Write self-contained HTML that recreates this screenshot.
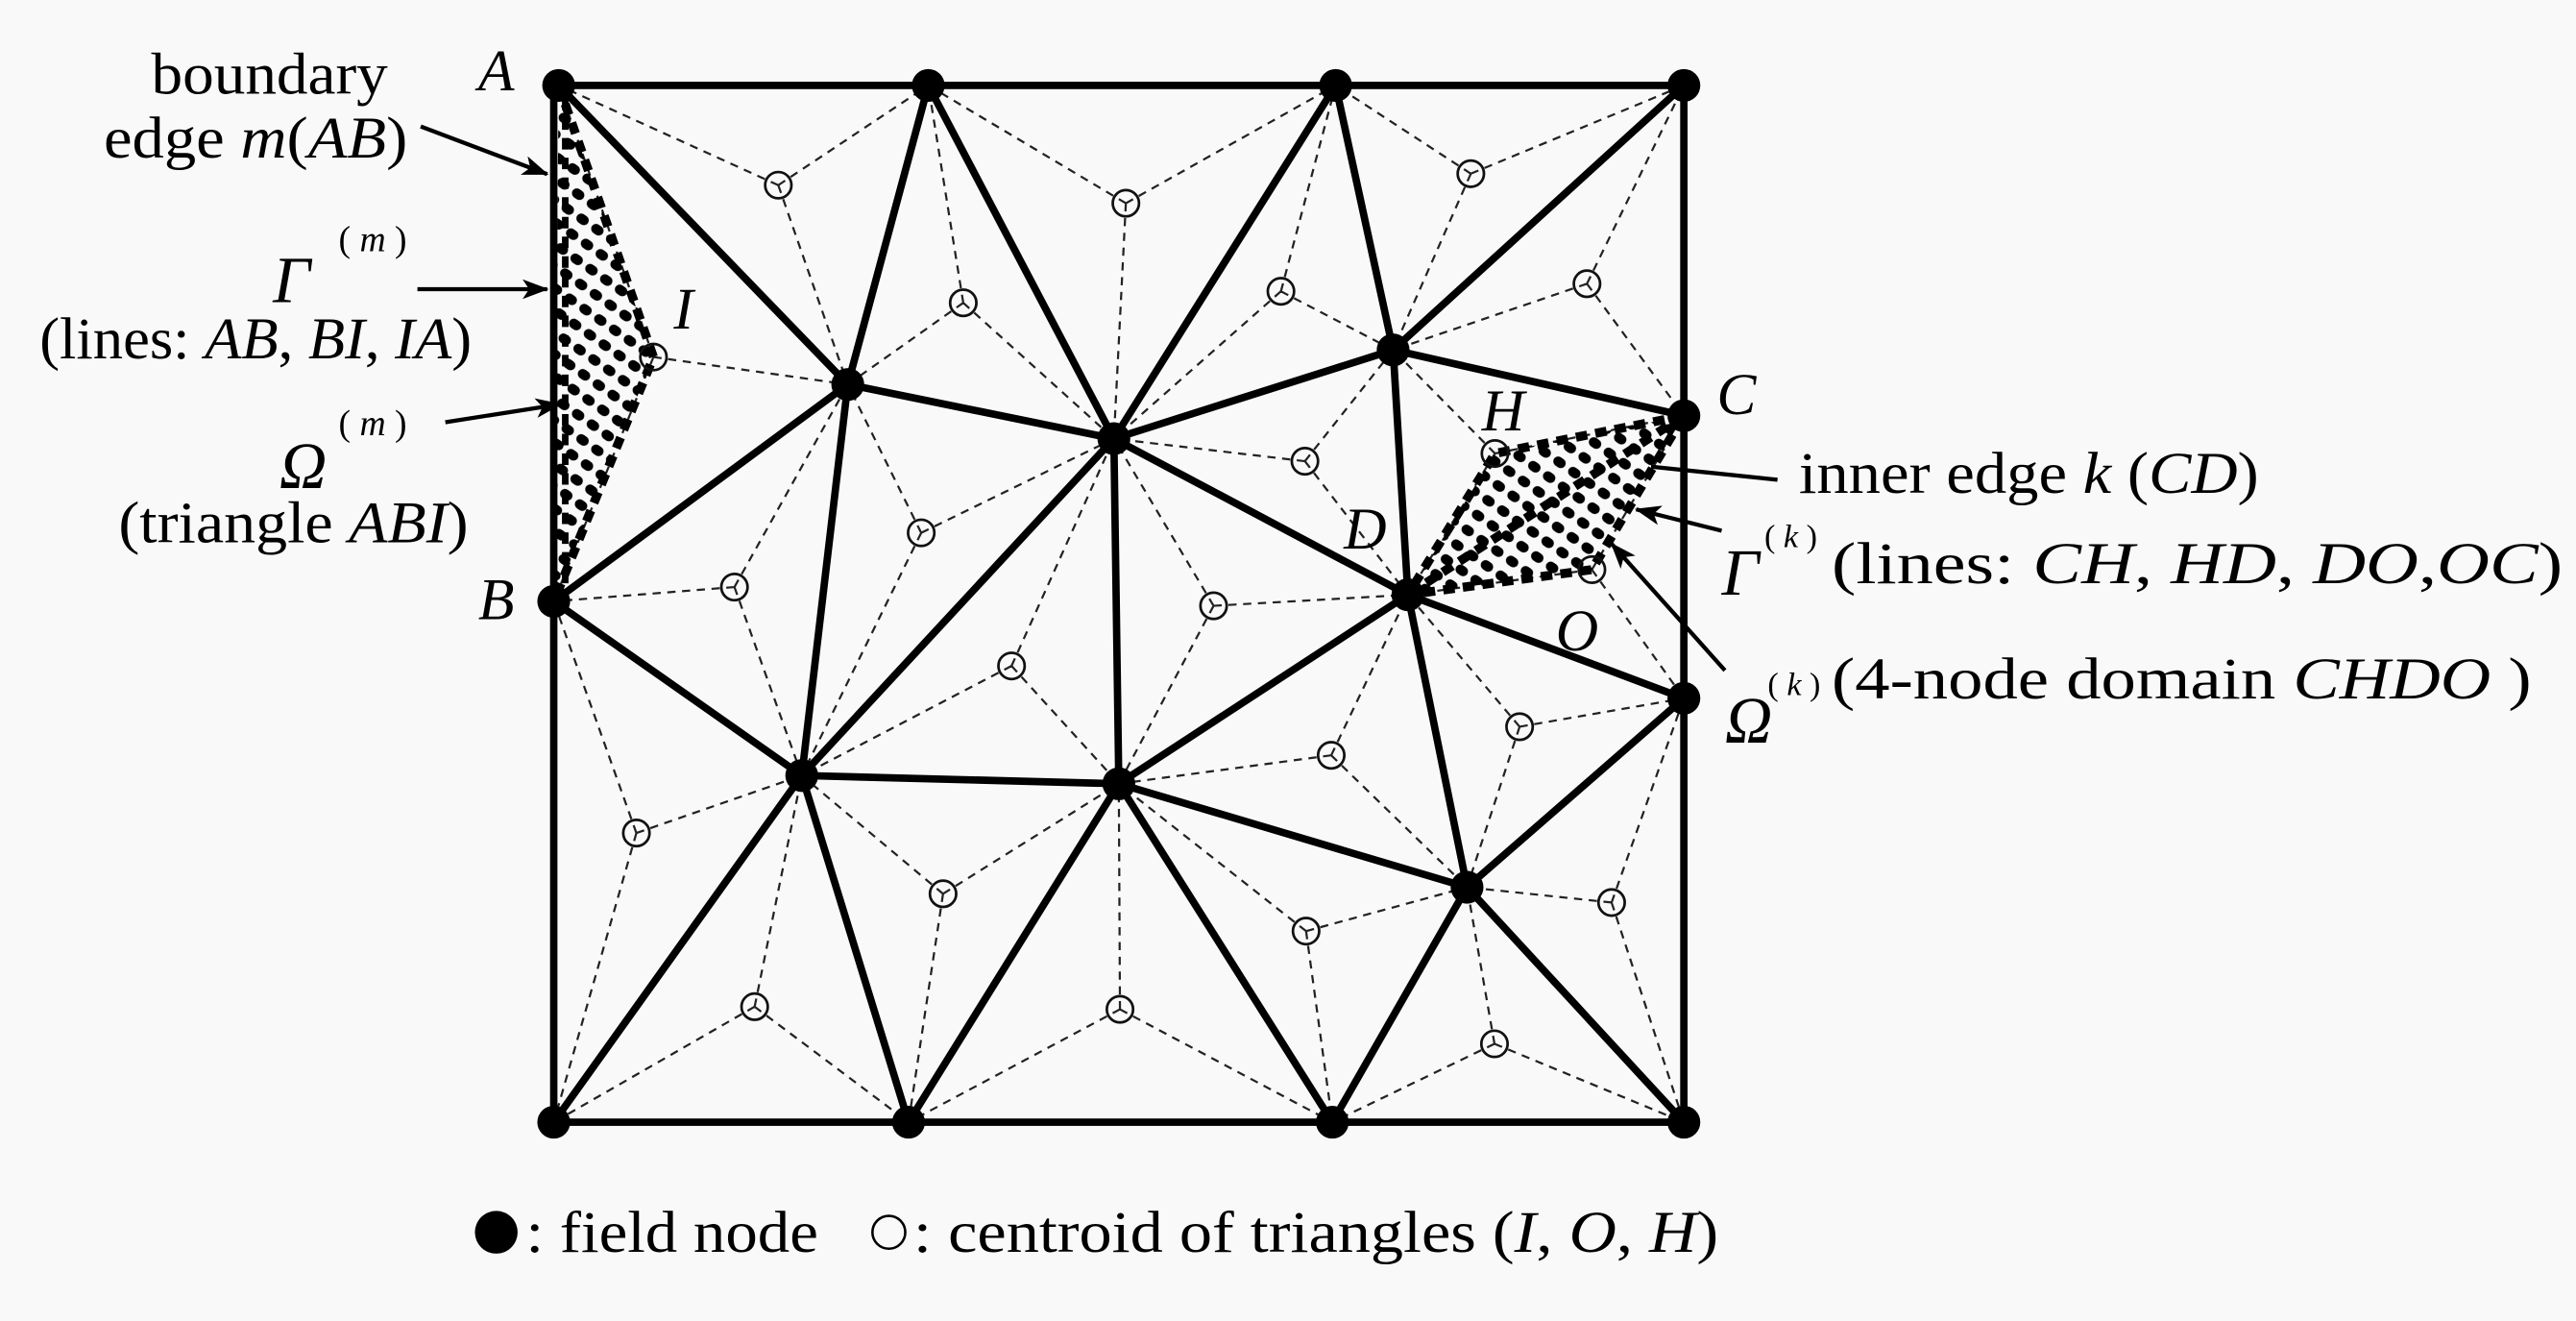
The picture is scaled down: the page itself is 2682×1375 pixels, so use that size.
<!DOCTYPE html>
<html><head><meta charset="utf-8"><style>
html,body{margin:0;padding:0;background:#f9f9f9;}
svg{display:block}
text{font-family:"Liberation Serif",serif;fill:#000;}
.i{font-style:italic}
</style></head><body>
<svg width="2682" height="1375" viewBox="0 0 1568 804" xmlns="http://www.w3.org/2000/svg">
<defs>
<pattern id="hat" width="11" height="11" patternUnits="userSpaceOnUse" patternTransform="rotate(35)">
<rect x="0" y="2" width="8" height="6" rx="3" fill="#000"/>
</pattern>
<marker id="ar2" markerWidth="16" markerHeight="12" refX="15" refY="6" orient="auto" markerUnits="userSpaceOnUse"><path d="M0,0 L16,6 L0,12 L4,6 Z" fill="#000"/></marker>
</defs>
<rect width="1568" height="804" fill="#f9f9f9"/>

<g stroke="#222" stroke-width="1.3" stroke-dasharray="5,4" fill="none">
<path d="M473.7,112.7L340,52M473.7,112.7L565,52M473.7,112.7L516,234
M586.3,184.3L565,52M586.3,184.3L516,234M586.3,184.3L678,267
M685.3,123.7L565,52M685.3,123.7L813,52M685.3,123.7L678,267
M779.7,177.3L813,52M779.7,177.3L678,267M779.7,177.3L848,213
M895.3,105.7L813,52M895.3,105.7L1025,52M895.3,105.7L848,213
M966,172.7L1025,52M966,172.7L848,213M966,172.7L1025,253
M397.7,217.3L340,52M397.7,217.3L337,366M397.7,217.3L516,234
M447,357.3L337,366M447,357.3L516,234M447,357.3L488,472
M560.7,324.3L516,234M560.7,324.3L678,267M560.7,324.3L488,472
M615.7,405.3L678,267M615.7,405.3L488,472M615.7,405.3L681,477
M738.7,368.7L678,267M738.7,368.7L681,477M738.7,368.7L857,362
M794.3,280.7L678,267M794.3,280.7L848,213M794.3,280.7L857,362
M910,276L848,213M910,276L857,362M910,276L1025,253
M969,346.7L857,362M969,346.7L1025,253M969,346.7L1025,425
M925,442.3L857,362M925,442.3L1025,425M925,442.3L893,540
M810.3,459.7L857,362M810.3,459.7L681,477M810.3,459.7L893,540
M387.3,507L337,366M387.3,507L488,472M387.3,507L337,683
M459.3,612.7L337,683M459.3,612.7L488,472M459.3,612.7L553,683
M574,544L488,472M574,544L681,477M574,544L553,683
M681.7,614.3L681,477M681.7,614.3L553,683M681.7,614.3L811,683
M795,566.7L681,477M795,566.7L893,540M795,566.7L811,683
M909.7,635.3L893,540M909.7,635.3L811,683M909.7,635.3L1025,683
M981,549.3L893,540M981,549.3L1025,425M981,549.3L1025,683"/>
</g>

<g>
<path d="M340,52 L397.7,217.3 L337,366 Z" fill="url(#hat)"/>
<path d="M340,52 L397.7,217.3 L337,366" fill="none" stroke="#000" stroke-width="5.5" stroke-dasharray="7,5"/>
<path d="M344,60 L344,360" fill="none" stroke="#000" stroke-width="4" stroke-dasharray="7,5"/>
<path d="M1025,253 L910,276 L857,362 L969,346.7 Z" fill="url(#hat)"/>
<path d="M1025,253 L910,276 L857,362 L969,346.7 Z M1025,253 L857,362" fill="none" stroke="#000" stroke-width="5.5" stroke-dasharray="7,5"/>
</g>

<g stroke="#000" stroke-width="4.5" fill="none" stroke-linecap="round">
<rect x="337" y="52" width="688" height="631"/>
<path d="M340,52L516,234M565,52L516,234M565,52L678,267M813,52L678,267M813,52L848,213M1025,52L848,213
M848,213L1025,253M848,213L857,362M678,267L848,213M516,234L678,267M337,366L516,234M516,234L488,472
M678,267L488,472M678,267L681,477M678,267L857,362M857,362L1025,425M857,362L681,477
M857,362L893,540M337,366L488,472M488,472L681,477M488,472L337,683M488,472L553,683M681,477L553,683
M681,477L811,683M681,477L893,540M893,540L811,683M893,540L1025,683M893,540L1025,425"/>
</g>

<g fill="none" stroke="#111" stroke-width="1.6">
<circle cx="473.7" cy="112.7" r="8"/><circle cx="586.3" cy="184.3" r="8"/><circle cx="685.3" cy="123.7" r="8"/>
<circle cx="779.7" cy="177.3" r="8"/><circle cx="895.3" cy="105.7" r="8"/><circle cx="966" cy="172.7" r="8"/>
<circle cx="397.7" cy="217.3" r="8"/><circle cx="447" cy="357.3" r="8"/><circle cx="560.7" cy="324.3" r="8"/>
<circle cx="615.7" cy="405.3" r="8"/><circle cx="738.7" cy="368.7" r="8"/><circle cx="794.3" cy="280.7" r="8"/>
<circle cx="910" cy="276" r="8"/><circle cx="969" cy="346.7" r="8"/><circle cx="925" cy="442.3" r="8"/>
<circle cx="810.3" cy="459.7" r="8"/><circle cx="387.3" cy="507" r="8"/><circle cx="459.3" cy="612.7" r="8"/>
<circle cx="574" cy="544" r="8"/><circle cx="681.7" cy="614.3" r="8"/><circle cx="795" cy="566.7" r="8"/>
<circle cx="909.7" cy="635.3" r="8"/><circle cx="981" cy="549.3" r="8"/>
</g>

<g fill="#000">
<circle cx="340" cy="52" r="10"/><circle cx="565" cy="52" r="10"/><circle cx="813" cy="52" r="10"/><circle cx="1025" cy="52" r="10"/>
<circle cx="337" cy="366" r="10"/><circle cx="337" cy="683" r="10"/><circle cx="553" cy="683" r="10"/><circle cx="811" cy="683" r="10"/><circle cx="1025" cy="683" r="10"/>
<circle cx="1025" cy="253" r="10"/><circle cx="1025" cy="425" r="10"/>
<circle cx="516" cy="234" r="10"/><circle cx="678" cy="267" r="10"/><circle cx="848" cy="213" r="10"/><circle cx="857" cy="362" r="10"/>
<circle cx="488" cy="472" r="10"/><circle cx="681" cy="477" r="10"/><circle cx="893" cy="540" r="10"/>
</g>

<g stroke="#000" stroke-width="2.5" fill="none">
<line x1="256" y1="77" x2="333" y2="106" marker-end="url(#ar2)"/>
<line x1="254" y1="176" x2="333" y2="176" marker-end="url(#ar2)"/>
<line x1="271" y1="257" x2="341" y2="246" marker-end="url(#ar2)"/>
<line x1="1082" y1="292" x2="1005" y2="284"/>
<line x1="1048" y1="323" x2="996" y2="310" marker-end="url(#ar2)"/>
<line x1="1050" y1="408" x2="981" y2="331" marker-end="url(#ar2)"/>
</g>

<g font-size="36">
<text x="92" y="57" textLength="144" lengthAdjust="spacingAndGlyphs">boundary</text>
<text x="63" y="96" textLength="185" lengthAdjust="spacingAndGlyphs">edge <tspan class="i">m</tspan>(<tspan class="i">AB</tspan>)</text>
<text x="166" y="184" class="i" font-size="40">Γ</text>
<text x="206" y="153" font-size="22">( <tspan class="i">m</tspan> )</text>
<text x="24" y="218" textLength="263" lengthAdjust="spacingAndGlyphs">(lines: <tspan class="i">AB</tspan>, <tspan class="i">BI</tspan>, <tspan class="i">IA</tspan>)</text>
<text x="170" y="297" class="i" font-size="40">Ω</text>
<text x="206" y="265" font-size="22">( <tspan class="i">m</tspan> )</text>
<text x="72" y="330" textLength="213" lengthAdjust="spacingAndGlyphs">(triangle <tspan class="i">ABI</tspan>)</text>

<text x="291" y="55" class="i">A</text>
<text x="291" y="377" class="i">B</text>
<text x="410" y="200" class="i">I</text>
<text x="1045" y="252" class="i">C</text>
<text x="902" y="262" class="i">H</text>
<text x="818" y="334" class="i">D</text>
<text x="947" y="396" class="i">O</text>

<text x="1095" y="300" textLength="280" lengthAdjust="spacingAndGlyphs">inner edge <tspan class="i">k</tspan> (<tspan class="i">CD</tspan>)</text>
<text x="1048" y="362" class="i" font-size="40">Γ</text>
<text x="1074" y="333" font-size="20">( <tspan class="i">k</tspan> )</text>
<text x="1115" y="355" textLength="445" lengthAdjust="spacingAndGlyphs">(lines: <tspan class="i">CH</tspan>, <tspan class="i">HD</tspan>, <tspan class="i">DO</tspan>,<tspan class="i">OC</tspan>)</text>
<text x="1050" y="452" class="i" font-size="40">Ω</text>
<text x="1076" y="423" font-size="20">( <tspan class="i">k</tspan> )</text>
<text x="1115" y="425" textLength="426" lengthAdjust="spacingAndGlyphs">(4-node domain <tspan class="i">CHDO</tspan> )</text>

<circle cx="302" cy="750" r="13" fill="#000"/>
<text x="320" y="762" textLength="178" lengthAdjust="spacingAndGlyphs">: field node</text>
<circle cx="541" cy="750" r="10" fill="none" stroke="#000" stroke-width="1.5"/>
<text x="556" y="762" textLength="490" lengthAdjust="spacingAndGlyphs">: centroid of triangles (<tspan class="i">I</tspan>, <tspan class="i">O</tspan>, <tspan class="i">H</tspan>)</text>
</g>
</svg>
</body></html>
